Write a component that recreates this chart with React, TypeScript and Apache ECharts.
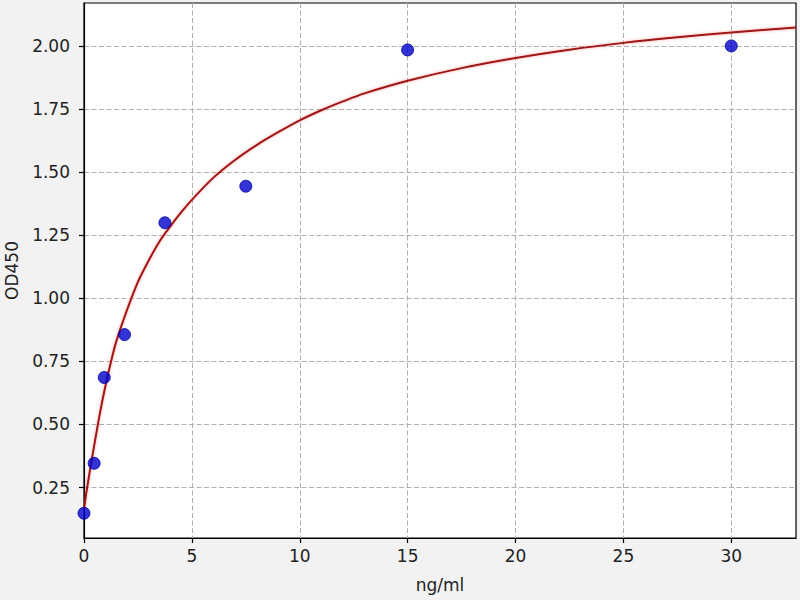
import React, { useEffect, useRef } from "react";
import * as echarts from "echarts";

const pointX = [0, 0.47, 0.94, 1.88, 3.75, 7.5, 15, 30];
const pointY = [0.148, 0.346, 0.686, 0.856, 1.299, 1.444, 1.984, 2.0];

const curveX = [0, 0.1, 0.25, 0.5, 0.75, 1.0, 1.25, 1.5, 2.0, 2.5, 3.0, 3.5, 4.0, 4.5, 5.0, 6.0, 7.0, 8.0, 9.0, 10, 11, 12, 13, 15, 17.5, 20, 22.5, 25, 27.5, 30, 33];
const curveY = [0.165, 0.225, 0.305, 0.43, 0.55, 0.655, 0.748, 0.83, 0.955, 1.065, 1.15, 1.225, 1.285, 1.34, 1.39, 1.478, 1.548, 1.607, 1.658, 1.705, 1.745, 1.78, 1.812, 1.862, 1.912, 1.952, 1.985, 2.012, 2.034, 2.053, 2.073];

const xTicks = [0, 5, 10, 15, 20, 25, 30];
const yTicks = [0.25, 0.5, 0.75, 1.0, 1.25, 1.5, 1.75, 2.0];

const FONT = "DejaVu Sans";

export default function App() {
  const ref = useRef<HTMLDivElement>(null);
  useEffect(() => {
    document.body.style.margin = "0";
    if (!ref.current) return;
    const chart = echarts.init(ref.current, null, { renderer: "svg" });
    const gridLine = { show: true, lineStyle: { color: "#b0b0b0", width: 1, type: [5, 2.5] as any } };
    chart.setOption({
      animation: false,
      backgroundColor: "#f2f2f2",
      grid: {
        left: 84,
        right: 4,
        top: 3,
        bottom: 62,
        show: true,
        backgroundColor: "#ffffff",
        borderColor: "#000000",
        borderWidth: 1.2,
        outerBoundsMode: "none",
      },
      xAxis: {
        type: "value",
        min: 0,
        max: 33,
        name: "ng/ml",
        nameLocation: "middle",
        nameGap: 38,
        nameTextStyle: { fontFamily: FONT, fontSize: 17, color: "#222" },
        axisLine: { show: true, lineStyle: { color: "#000", width: 1.2 } },
        axisTick: { show: true, length: 5, customValues: xTicks, lineStyle: { color: "#000", width: 1.2 } },
        axisLabel: { customValues: xTicks, fontFamily: FONT, fontSize: 17, color: "#222", margin: 9 },
        splitLine: gridLine,
      },
      yAxis: {
        type: "value",
        min: 0.05,
        max: 2.17,
        name: "OD450",
        nameLocation: "middle",
        nameRotate: 90,
        nameGap: 64,
        nameTextStyle: { fontFamily: FONT, fontSize: 17, color: "#222" },
        axisLine: { show: true, lineStyle: { color: "#000", width: 1.2 } },
        axisTick: { show: true, length: 5, customValues: yTicks, lineStyle: { color: "#000", width: 1.2 } },
        axisLabel: {
          customValues: yTicks,
          fontFamily: FONT,
          fontSize: 17,
          color: "#222",
          margin: 14,
          formatter: (v: number) => v.toFixed(2),
        },
        splitLine: gridLine,
      },
      series: [
        {
          type: "line",
          data: curveX.map((x, i) => [x, curveY[i]]),
          showSymbol: false,
          smooth: 0.3,
          clip: true,
          lineStyle: { color: "#9e1515", width: 2, shadowColor: "rgba(255,70,70,0.5)", shadowBlur: 3 },
          z: 2,
        },
        {
          type: "scatter",
          data: pointX.map((x, i) => [x, pointY[i]]),
          symbolSize: 12,
          itemStyle: { color: "#0000cc", borderColor: "#00009a", borderWidth: 1 },
          z: 3,
        },
      ],
    });
    return () => chart.dispose();
  }, []);
  return <div ref={ref} style={{ position: "fixed", left: 0, top: 0, width: 800, height: 600 }} />;
}
